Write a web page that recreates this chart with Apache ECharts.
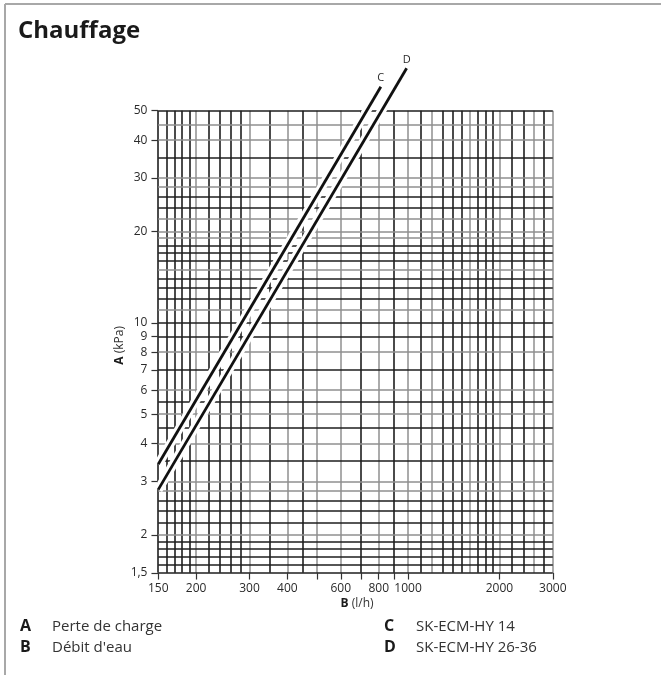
<!DOCTYPE html>
<html><head><meta charset="utf-8">
<script src="https://cdn.jsdelivr.net/npm/echarts@6/dist/echarts.min.js"></script>
<style>html,body{margin:0;padding:0;background:#fff}#c{width:661px;height:675px}</style>
</head><body><div id="c"></div>
<script>
// ---- data ----
const xTickValues = [150, 200, 300, 400, 500, 600, 700, 800, 900, 1000, 2000, 3000];
const xTickLabels = ['150', '200', '300', '400', '', '600', '', '800', '', '1000', '2000', '3000'];
const yTickValues = [1.5, 2, 3, 4, 5, 6, 7, 8, 9, 10, 20, 30, 40, 50];
const yTickLabels = ['1,5', '2', '3', '4', '5', '6', '7', '8', '9', '10', '20', '30', '40', '50'];
const xGridDark = [150, 160, 170, 180, 190, 220, 240, 260, 280, 350, 450, 700, 900, 1100, 1300, 1400, 1500, 1700, 1800, 1900, 2200, 2400, 2800];
const xGridLight = [200, 300, 400, 500, 600, 800, 1000, 1200, 1600, 2000, 2600, 3000];
const yGridDark = [1.5, 1.6, 1.7, 1.8, 1.9, 2.2, 2.4, 2.6, 3.5, 4.5, 5.5, 7, 9, 10, 12, 13, 14, 16, 17, 18, 24, 26, 35, 50];
const yGridLight = [2, 2.8, 3, 4, 5, 6, 8, 11, 15, 19, 20, 22, 28, 30, 40, 45];
const curveC = [[150, 3.42], [813, 60]];
const curveD = [[150, 2.82], [989, 69]];
const curveNames = ['C', 'D'];
const legendKeys = ['A', 'B', 'C', 'D'];
const legendTexts = ['Perte de charge', "Débit d'eau", 'SK-ECM-HY 14', 'SK-ECM-HY 26-36'];
const titleText = 'Chauffage';

// ---- layout / style ----
const FONT = '"Open Sans", "Noto Sans", sans-serif';
const X_AXIS_MIN = 142, X_AXIS_MAX = 3005, Y_AXIS_MIN = 1.42, Y_AXIS_MAX = 50.05;
const X_TICK_END = 142.5, Y_TICK_END = 1.425;
const xLo = xTickValues[0], xHi = xTickValues[xTickValues.length - 1];
const yLo = yTickValues[0], yHi = yTickValues[yTickValues.length - 1];
const DARK = { color: '#1e1e1e', width: 1.6, type: 'solid' };
const LIGHT = { color: '#8f8f8f', width: 1.5, type: 'solid' };
const TICK = { color: '#333', width: 1.2, type: 'solid' };
const LBL = { fontFamily: FONT, fontSize: 12, color: '#2a2a2a' };

const markItems = [];
xGridDark.forEach(v => markItems.push([{ coord: [v, yLo], lineStyle: DARK }, { coord: [v, yHi] }]));
xGridLight.forEach(v => markItems.push([{ coord: [v, yLo], lineStyle: LIGHT }, { coord: [v, yHi] }]));
yGridDark.forEach(v => markItems.push([{ coord: [xLo, v], lineStyle: DARK }, { coord: [xHi, v] }]));
yGridLight.forEach(v => markItems.push([{ coord: [xLo, v], lineStyle: LIGHT }, { coord: [xHi, v] }]));
xTickValues.forEach((v, i) => markItems.push([
  { coord: [v, yLo], lineStyle: TICK, label: Object.assign({ show: true, position: 'end', distance: 3, formatter: xTickLabels[i] }, LBL) },
  { coord: [v, Y_TICK_END] }]));
yTickValues.forEach((v, i) => markItems.push([
  { coord: [xLo, v], lineStyle: TICK, label: Object.assign({ show: true, position: 'end', distance: 4, formatter: yTickLabels[i] }, LBL) },
  { coord: [X_TICK_END, v] }]));

function withEndLabel(data, name) {
  return data.map((p, i) => i === data.length - 1
    ? { value: p, label: Object.assign({ show: true, position: 'top', distance: 3, formatter: name }, LBL, { fontSize: 11 }) }
    : p);
}

const graphics = [
  { type: 'line', shape: { x1: 5, y1: 4, x2: 661, y2: 4 }, style: { stroke: '#a8a8a8', lineWidth: 2 } },
  { type: 'line', shape: { x1: 5, y1: 4, x2: 5, y2: 675 }, style: { stroke: '#a8a8a8', lineWidth: 2 } },
  { type: 'text', left: 18, top: 19, style: { text: titleText, fontFamily: FONT, fontWeight: 'bold', fontSize: 24, fill: '#1a1a1a' } }
];
const legendPos = [[20, 52, 618], [20, 52, 639], [384, 416, 618], [384, 416, 639]];
legendKeys.forEach((k, i) => {
  const p = legendPos[i];
  graphics.push({ type: 'text', left: p[0], top: p[2], style: { text: k, fontFamily: FONT, fontWeight: 'bold', fontSize: 16, fill: '#1a1a1a' } });
  graphics.push({ type: 'text', left: p[1], top: p[2] + 1, style: { text: legendTexts[i], fontFamily: FONT, fontSize: 15, fill: '#333' } });
});

const chart = echarts.init(document.getElementById('c'), null, { renderer: 'canvas' });
chart.setOption({
  animation: false,
  backgroundColor: '#fff',
  grid: { left: 151, top: 110.6, width: 402, height: 469.4, containLabel: false },
  xAxis: {
    type: 'log', logBase: 10, min: X_AXIS_MIN, max: X_AXIS_MAX,
    axisLine: { show: false }, axisTick: { show: false }, axisLabel: { show: false }, splitLine: { show: false },
    name: '{b|B} (l/h)', nameLocation: 'middle', nameGap: 18,
    nameTextStyle: { fontFamily: FONT, fontSize: 12, color: '#333', padding: [0, 0, 0, 10], rich: { b: { fontFamily: FONT, fontSize: 12, fontWeight: 'bold', color: '#1a1a1a' } } }
  },
  yAxis: {
    type: 'log', logBase: 10, min: Y_AXIS_MIN, max: Y_AXIS_MAX,
    axisLine: { show: false }, axisTick: { show: false }, axisLabel: { show: false }, splitLine: { show: false },
    name: '{b|A} (kPa)', nameLocation: 'middle', nameGap: 25, nameRotate: 90,
    nameTextStyle: { fontFamily: FONT, fontSize: 12, color: '#333', rich: { b: { fontFamily: FONT, fontSize: 12, fontWeight: 'bold', color: '#1a1a1a' } } }
  },
  graphic: graphics,
  series: [
    {
      type: 'line', name: 'haloC', data: curveC, symbol: 'none', clip: false, silent: true, z: 6,
      lineStyle: { color: '#fff', width: 9 },
      markLine: { silent: true, symbol: ['none', 'none'], animation: false, z: 3, label: { show: false }, data: markItems }
    },
    { type: 'line', name: 'haloD', data: curveD, symbol: 'none', clip: false, silent: true, z: 6, lineStyle: { color: '#fff', width: 9 } },
    {
      type: 'line', name: curveNames[0], data: withEndLabel(curveC, curveNames[0]), symbol: 'circle', symbolSize: 0, showSymbol: true,
      clip: false, silent: true, z: 7, itemStyle: { color: '#111' }, lineStyle: { color: '#111', width: 2.8 }
    },
    {
      type: 'line', name: curveNames[1], data: withEndLabel(curveD, curveNames[1]), symbol: 'circle', symbolSize: 0, showSymbol: true,
      clip: false, silent: true, z: 7, itemStyle: { color: '#111' }, lineStyle: { color: '#111', width: 2.8 }
    }
  ]
});
</script></body></html>
